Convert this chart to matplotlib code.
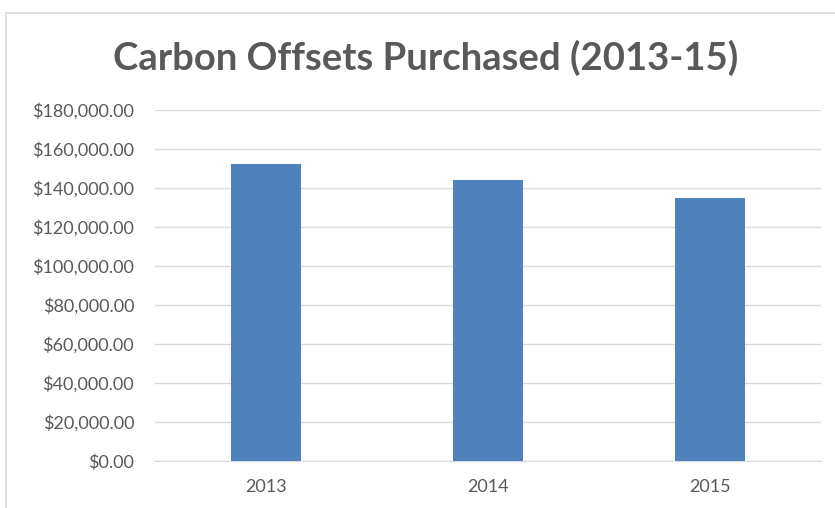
import matplotlib.pyplot as plt
from matplotlib.patches import Rectangle
from matplotlib.ticker import FuncFormatter

years = ['2013', '2014', '2015']
offsets = [152500, 144000, 134700]

plt.rcParams['font.family'] = ['Lato', 'DejaVu Sans']

fig = plt.figure(figsize=(8.35, 5.08), dpi=100)
ax = fig.add_axes([155/835, 1 - 461/508, 666/835, 351/508])

ax.bar(range(len(years)), offsets, width=0.315, color='#4f81bd', zorder=3)

ax.set_xlim(-0.5, 2.5)
ax.set_ylim(0, 180000)
ax.set_yticks(range(0, 180001, 20000))
ax.yaxis.set_major_formatter(FuncFormatter(lambda v, p: '${:,.2f}'.format(v)))
ax.set_xticks(range(len(years)))
ax.set_xticklabels(years)
ax.grid(axis='y', color='#d9d9d9', linewidth=1, zorder=0)
for s in ['top', 'right', 'left']:
    ax.spines[s].set_visible(False)
ax.spines['bottom'].set_color('#d9d9d9')
ax.tick_params(length=0, colors='#595959', labelsize=13)
ax.tick_params(axis='y', pad=15)
ax.tick_params(axis='x', pad=13)

fig.text(0.51, 1 - 58/508, 'Carbon Offsets Purchased (2013-15)', ha='center', va='center',
         fontsize=27.5, fontweight='bold', color='#595959')

# chart area border, running off the right and bottom edges
fig.patches.append(Rectangle((6/835, -0.1), 1.1, 1.1 - 13/508, transform=fig.transFigure,
                             fill=False, edgecolor='#d9d9d9', linewidth=1.2))

fig.savefig('out.png', dpi=100)
